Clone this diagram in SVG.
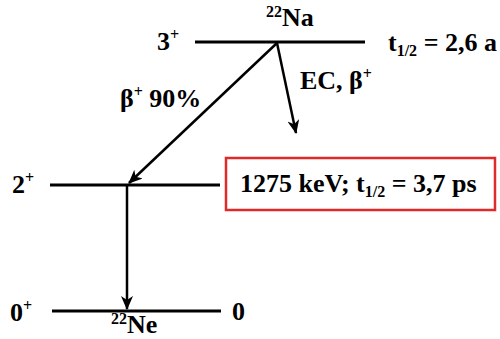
<svg xmlns="http://www.w3.org/2000/svg" width="500" height="339" viewBox="0 0 500 339">
<defs>
<style>
text{font-family:"Liberation Serif","DejaVu Serif",serif;font-weight:bold;font-size:26px;fill:#000}
.sub{font-size:16px}
.lvl{stroke:#000;stroke-width:3;fill:none}
.arr{stroke:#000;stroke-width:2.5;fill:none;marker-end:url(#ah)}
</style>
<marker id="ah" viewBox="0 0 14 12" refX="13" refY="6" markerWidth="14" markerHeight="12" markerUnits="userSpaceOnUse" orient="auto">
<path d="M0,0 L14,6 L0,12 L4,6 Z" fill="#000"/>
</marker>
</defs>
<rect width="500" height="339" fill="#fff"/>
<g id="level-na22">
<line class="lvl" x1="195" y1="42" x2="365" y2="42"/>
<text x="157" y="50">3<tspan class="sub" dy="-10">+</tspan></text>
<text x="266" y="26"><tspan class="sub" dy="-9">22</tspan><tspan dy="9">Na</tspan></text>
<text x="388" y="51">t<tspan class="sub" dy="5">1/2</tspan><tspan dy="-5"> = 2,6 a</tspan></text>
</g>
<g id="level-2plus">
<line class="lvl" x1="50" y1="185" x2="220" y2="185"/>
<text x="12" y="193">2<tspan class="sub" dy="-10">+</tspan></text>
</g>
<g id="energy-box">
<rect x="226" y="158" width="269" height="52" fill="#fff" stroke="#e02a2a" stroke-width="2.5"/>
<text x="240" y="192">1275 keV; t<tspan class="sub" dy="5">1/2</tspan><tspan dy="-5"> = 3,7 ps</tspan></text>
</g>
<g id="level-ne22">
<line class="lvl" x1="52" y1="311" x2="221" y2="311"/>
<text x="10" y="321">0<tspan class="sub" dy="-10">+</tspan></text>
<text x="232" y="320">0</text>
<text x="111" y="333"><tspan class="sub" dy="-9">22</tspan><tspan dy="9">Ne</tspan></text>
</g>
<g id="connectors">
<line class="arr" x1="277" y1="43" x2="129" y2="183"/>
<line class="arr" x1="277" y1="43" x2="296" y2="133"/>
<line class="arr" x1="127" y1="186" x2="127" y2="309"/>
<text x="300" y="89">EC, β<tspan class="sub" dy="-10">+</tspan></text>
<text x="120" y="107">β<tspan class="sub" dy="-10">+</tspan><tspan dy="10"> 90%</tspan></text>
</g>
</svg>
